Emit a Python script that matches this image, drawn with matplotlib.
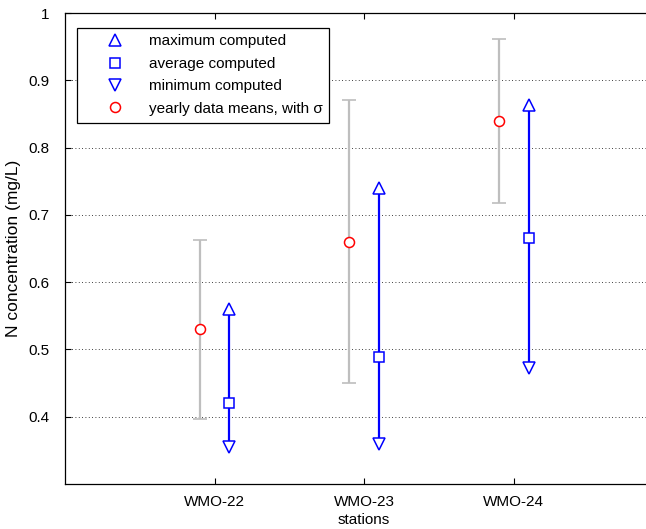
import matplotlib

matplotlib.use("Agg")
import matplotlib.pyplot as plt
import numpy as np
from matplotlib.lines import Line2D

# station data
stations = ["WMO-22", "WMO-23", "WMO-24"]
computed_max = [0.560, 0.740, 0.864]
computed_avg = [0.421, 0.488, 0.665]
computed_min = [0.355, 0.360, 0.472]
data_mean = [0.530, 0.660, 0.840]
data_sigma = [0.133, 0.210, 0.122]

yticks = [0.4, 0.5, 0.6, 0.7, 0.8, 0.9, 1.0]
ytick_labels = ["0.4", "0.5", "0.6", "0.7", "0.8", "0.9", "1"]

plt.rcParams["font.family"] = ["Liberation Sans", "DejaVu Sans"]
plt.rcParams["font.size"] = 11

blue = "#0000ff"
gray = "#bebebe"
red = "#ff0000"

fig = plt.figure(figsize=(6.46, 5.29), dpi=100)
# axes run past the right edge of the figure, as in the reference crop
axis = fig.add_axes([0.1006, 0.0851, 0.926, 0.8903])

x = np.arange(1, len(stations) + 1)
x_data = x - 0.1
x_comp = x + 0.1

axis.errorbar(
    x_data,
    data_mean,
    yerr=data_sigma,
    fmt="none",
    ecolor=gray,
    elinewidth=1.6,
    capsize=5,
    capthick=1.2,
    zorder=2,
)
axis.plot(
    x_data, data_mean, linestyle="none", marker="o", markersize=7.2,
    markerfacecolor="white", markeredgecolor=red, markeredgewidth=1.1,
    zorder=4,
)
axis.vlines(x_comp, computed_min, computed_max, color=blue, linewidth=1.6,
            zorder=3)
marker_style = dict(linestyle="none", markerfacecolor="white",
                    markeredgecolor=blue, markeredgewidth=1.1, zorder=4)
axis.plot(x_comp, computed_max, marker="^", markersize=8.5, **marker_style)
axis.plot(x_comp, computed_avg, marker="s", markersize=6.5, **marker_style)
axis.plot(x_comp, computed_min, marker="v", markersize=8.5, **marker_style)

axis.set_xlim(0, 4)
axis.set_ylim(0.3, 1.0)
axis.set_xticks(x, stations)
axis.set_yticks(yticks, ytick_labels)
axis.tick_params(direction="in", top=True, right=False, length=4,
                 width=0.8, labelsize=11)
axis.tick_params(axis="y", pad=11)
axis.tick_params(axis="x", pad=8)
axis.grid(axis="y", color="black", linestyle=(0, (1, 3)), linewidth=0.6)
axis.set_axisbelow(True)
for spine in axis.spines.values():
    spine.set_linewidth(0.9)
axis.spines["right"].set_visible(False)

axis.set_xlabel("stations", fontsize=11, labelpad=3)
axis.set_ylabel("N concentration (mg/L)", fontsize=12.5)
axis.yaxis.set_label_coords(-0.0736, 0.5)

handles = [
    Line2D([], [], linestyle="none", marker="^", markersize=8.5,
           markerfacecolor="white", markeredgecolor=blue, markeredgewidth=1.1),
    Line2D([], [], linestyle="none", marker="s", markersize=6.5,
           markerfacecolor="white", markeredgecolor=blue, markeredgewidth=1.1),
    Line2D([], [], linestyle="none", marker="v", markersize=8.5,
           markerfacecolor="white", markeredgecolor=blue, markeredgewidth=1.1),
    Line2D([], [], linestyle="none", marker="o", markersize=7.2,
           markerfacecolor="white", markeredgecolor=red, markeredgewidth=1.1),
]
labels = [
    "maximum computed",
    "average computed",
    "minimum computed",
    "yearly data means, with \u03c3",
]
legend = axis.legend(
    handles,
    labels,
    loc="upper left",
    bbox_to_anchor=(0.0196, 0.969),
    borderaxespad=0,
    frameon=True,
    fancybox=False,
    framealpha=1,
    edgecolor="black",
    fontsize=11,
    handlelength=4.1,
    handletextpad=0.15,
    labelspacing=0.55,
    borderpad=0.45,
)
legend.get_frame().set_linewidth(0.9)

fig.savefig("out.png", dpi=100)
plt.close(fig)
